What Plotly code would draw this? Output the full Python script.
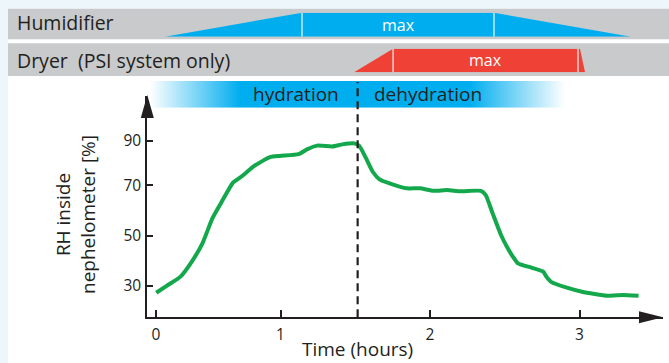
import plotly.graph_objects as go

# ---------------- data ----------------
# RH curve (time in hours, RH in %)
time_h = [0.169, 0.241, 0.331, 0.399, 0.478, 0.545, 0.613, 0.681, 0.737, 0.827,
          0.929, 0.997, 1.121, 1.177, 1.245, 1.346, 1.414, 1.493, 1.527, 1.572,
          1.617, 1.662, 1.730, 1.843, 1.933, 2.023, 2.114, 2.204, 2.340, 2.373,
          2.419, 2.475, 2.520, 2.554, 2.588, 2.678, 2.757, 2.779, 2.813, 2.904,
          3.017, 3.186, 3.288, 3.395]
rh_pct = [27.2, 30.0, 33.6, 38.9, 46.9, 56.9, 64.1, 71.0, 73.4, 77.8,
          81.2, 81.7, 82.4, 84.3, 85.8, 85.5, 86.3, 86.7, 85.7, 80.8,
          75.4, 72.4, 70.8, 68.8, 68.8, 67.8, 68.1, 67.6, 67.8, 66.1,
          58.8, 50.2, 44.9, 41.6, 38.9, 37.2, 35.6, 33.6, 31.4, 29.4,
          27.6, 26.0, 26.3, 26.0]

# humidifier power profile (0 = off, 1 = max)
hum_t = [0.227, 1.144, 2.428, 3.345, 0.227]
hum_level = [0, 1, 1, 0, 0]
hum_div = [1.144, 2.428]

# dryer power profile
dry_t = [1.492, 1.753, 3.003, 3.037, 1.492]
dry_level = [0, 1, 1, 0, 0]
dry_div = [1.753, 2.990]

# phase band
band_t = [0.127, 2.903]
switch_time = 1.516

x_tickvals = [0.167, 1, 2, 3]
x_ticktext = ["0", "1", "2", "3"]
y_tickvals = [30, 50, 70, 87.85]
y_ticktext = ["30", "50", "70", "90"]

# ---------------- styling ----------------
W, H = 669, 363
INK = "#231f20"
GREEN = "#13a84b"
BLUE = "#00aeef"
RED = "#ef4136"
GRAY = "#c9cacb"
TINT = "#edf6fb"
FONT = "Open Sans"


def px(x):
    return x / W


def py(y):
    return 1 - y / H


fig = go.Figure()

# humidifier
fig.add_trace(go.Scatter(x=hum_t, y=hum_level, xaxis="x", yaxis="y2", fill="toself",
                         fillcolor=BLUE, mode="none", hoverinfo="skip", showlegend=False))
for d in hum_div:
    fig.add_trace(go.Scatter(x=[d, d], y=[0, 1], xaxis="x", yaxis="y2", mode="lines",
                             line=dict(color="rgba(255,255,255,0.75)", width=1.5),
                             hoverinfo="skip", showlegend=False))
# dryer
fig.add_trace(go.Scatter(x=dry_t, y=dry_level, xaxis="x", yaxis="y3", fill="toself",
                         fillcolor=RED, mode="none", hoverinfo="skip", showlegend=False))
for d in dry_div:
    fig.add_trace(go.Scatter(x=[d, d], y=[0, 1], xaxis="x", yaxis="y3", mode="lines",
                             line=dict(color="rgba(255,255,255,0.75)", width=1.5),
                             hoverinfo="skip", showlegend=False))
# phase band with gradient
bx0, bx1 = band_t
fig.add_trace(go.Scatter(x=[bx0, bx1, bx1, bx0, bx0], y=[0, 0, 1, 1, 0], xaxis="x", yaxis="y4",
                         fill="toself", mode="none", hoverinfo="skip", showlegend=False,
                         fillgradient=dict(type="horizontal",
                                           colorscale=[[0, "#ffffff"], [0.217, BLUE],
                                                       [0.77, BLUE], [1, "#ffffff"]])))
# RH curve
fig.add_trace(go.Scatter(x=time_h, y=rh_pct, mode="lines",
                         line=dict(color=GREEN, width=4, shape="spline", smoothing=0.5),
                         showlegend=False))

# domains (pixel based)
x_dom = [px(147.3), px(663)]
y_dom = [py(317.3), py(96)]
x_range = [1 + (147.3 - 280.5) / 149.5, 1 + (663 - 280.5) / 149.5]
y_range = [30 - (317.3 - 285.7) / 2.51, 30 + (285.7 - 96) / 2.51]

shapes = [
    # background tint strips
    dict(type="rect", xref="paper", yref="paper", x0=0, x1=px(8), y0=0, y1=1,
         fillcolor=TINT, line_width=0, layer="below"),
    dict(type="rect", xref="paper", yref="paper", x0=0, x1=1, y0=py(8.7), y1=1,
         fillcolor=TINT, line_width=0, layer="below"),
    # gray bands
    dict(type="rect", xref="paper", yref="paper", x0=px(8), x1=1, y0=py(39.3), y1=py(8.7),
         fillcolor=GRAY, line_width=0, layer="below"),
    dict(type="rect", xref="paper", yref="paper", x0=px(8), x1=1, y0=py(76), y1=py(43.3),
         fillcolor=GRAY, line_width=0, layer="below"),
    # switch line
    dict(type="line", xref="x", yref="paper", x0=switch_time, x1=switch_time,
         y0=py(317.3), y1=py(82), line=dict(color=INK, width=2.2, dash="8px,5px"), layer="above"),
    # axis arrowheads
    dict(type="path", xref="paper", yref="paper",
         path=f"M {px(147.3)},{py(95)} L {px(140.8)},{py(118)} L {px(153.8)},{py(118)} Z",
         fillcolor=INK, line_width=0, layer="above"),
    dict(type="path", xref="paper", yref="paper",
         path=f"M {px(663)},{py(317.3)} L {px(639)},{py(311.3)} L {px(639)},{py(323.3)} Z",
         fillcolor=INK, line_width=0, layer="above"),
]

annotations = [
    dict(text="Humidifier", x=px(15), y=py(23), xref="paper", yref="paper",
         xanchor="left", yanchor="middle", showarrow=False, font=dict(size=19.5, color=INK, family=FONT)),
    dict(text="Dryer \u00a0(PSI system only)", x=px(15), y=py(60), xref="paper", yref="paper",
         xanchor="left", yanchor="middle", showarrow=False, font=dict(size=19.5, color=INK, family=FONT)),
    dict(text="max", x=(hum_div[0] + hum_div[1]) / 2, y=0.5, xref="x", yref="y2",
         xanchor="center", showarrow=False, font=dict(size=16, color="white", family=FONT)),
    dict(text="max", x=(dry_div[0] + dry_div[1]) / 2, y=0.5, xref="x", yref="y3",
         xanchor="center", showarrow=False, font=dict(size=16, color="white", family=FONT)),
    dict(text="hydration", x=px(296), y=0.5, xref="paper", yref="y4",
         xanchor="center", showarrow=False, font=dict(size=19, color=INK, family=FONT)),
    dict(text="dehydration", x=px(428), y=0.5, xref="paper", yref="y4",
         xanchor="center", showarrow=False, font=dict(size=19, color=INK, family=FONT)),
    dict(text="Time (hours)", x=px(357), y=py(349), xref="paper", yref="paper",
         xanchor="center", yanchor="middle", showarrow=False, font=dict(size=19, color=INK, family=FONT)),
    dict(text="RH inside<br>nephelometer [%]", x=px(75), y=py(215), xref="paper", yref="paper",
         xanchor="center", yanchor="middle", textangle=-90, showarrow=False,
         font=dict(size=19, color=INK, family=FONT)),
]

hidden = dict(visible=False, range=[0, 1], fixedrange=True)

fig.update_layout(
    width=W, height=H,
    margin=dict(l=0, r=0, t=0, b=0),
    paper_bgcolor="white", plot_bgcolor="rgba(0,0,0,0)",
    showlegend=False,
    xaxis=dict(domain=x_dom, range=x_range, showgrid=False, zeroline=False,
               showline=True, linecolor=INK, linewidth=2,
               ticks="inside", ticklen=7, tickwidth=2, tickcolor=INK,
               tickvals=x_tickvals, ticktext=x_ticktext, ticklabelstandoff=2,
               tickfont=dict(size=15.5, color=INK, family=FONT)),
    yaxis=dict(domain=y_dom, range=y_range, showgrid=False, zeroline=False,
               showline=True, linecolor=INK, linewidth=2,
               ticks="inside", ticklen=6, tickwidth=2, tickcolor=INK,
               tickvals=y_tickvals, ticktext=y_ticktext, ticklabelstandoff=1,
               tickfont=dict(size=15.5, color=INK, family=FONT)),
    yaxis2=dict(domain=[py(36.7), py(12.7)], anchor="free", position=0, **hidden),
    yaxis3=dict(domain=[py(72.3), py(48.7)], anchor="free", position=0, **hidden),
    yaxis4=dict(domain=[py(107.7), py(81)], anchor="free", position=0, **hidden),
    shapes=shapes,
    annotations=annotations,
)

fig.write_html("out.html")
